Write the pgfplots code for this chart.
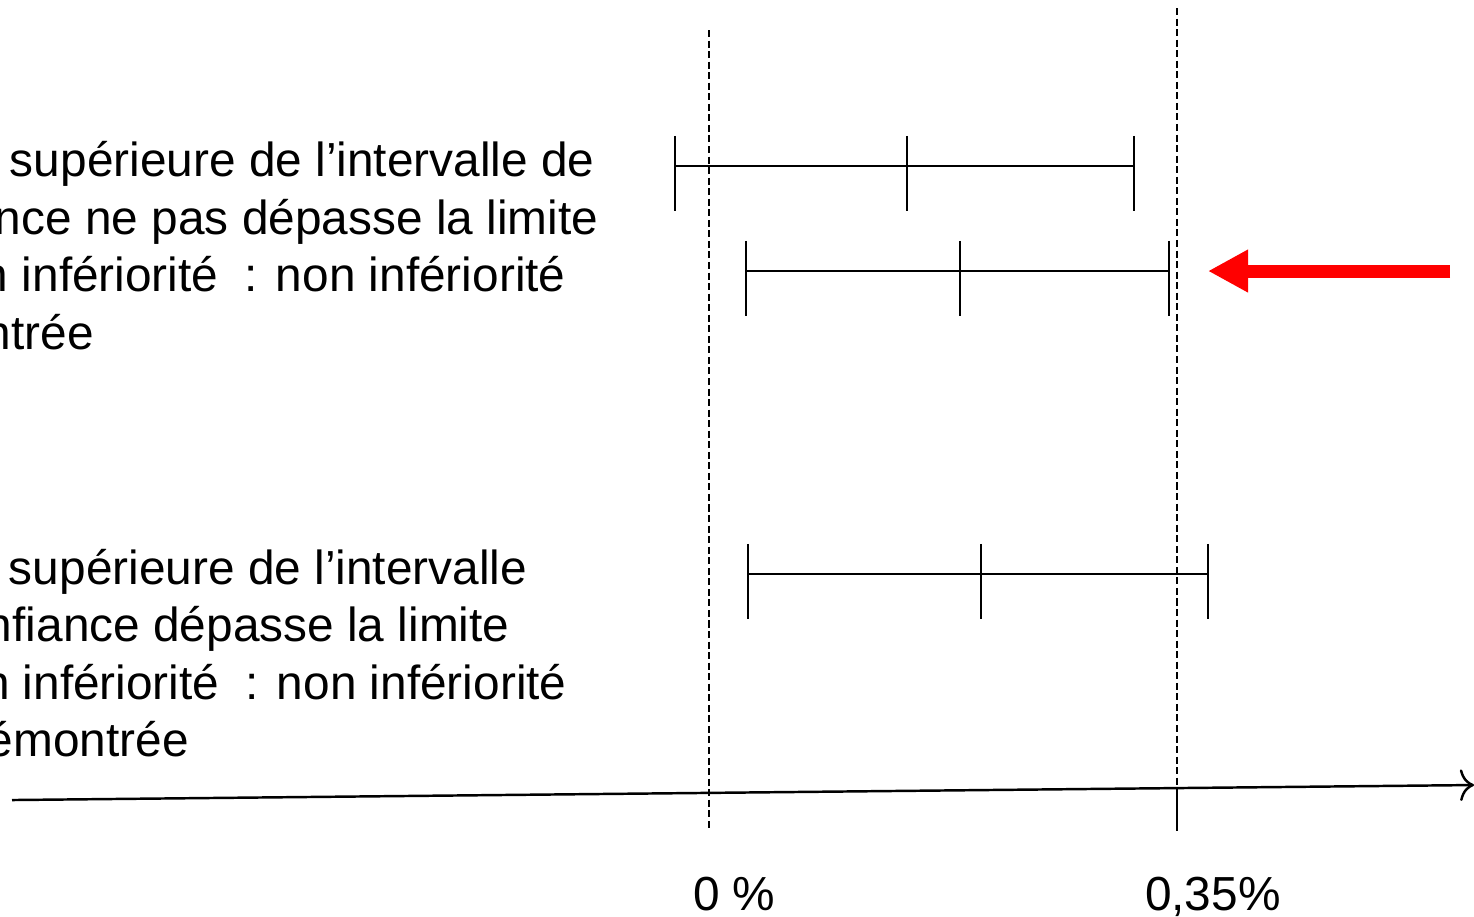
\documentclass[border=0pt]{standalone}
\usepackage{pgfplots}
\pgfplotsset{compat=1.18}
\usetikzlibrary{arrows.meta}
\usepackage{fontspec}
\setmainfont{Liberation Sans}
\tikzset{txt/.style={inner sep=0pt, outer sep=0pt, font=\fontsize{13.6}{16.4}\selectfont}}
\begin{document}
\begin{tikzpicture}
\begin{axis}[
  scale only axis, width=14.74cm, height=9.16cm,
  xmin=-0.53024, xmax=0.57212, ymin=0, ymax=916, y dir=reverse,
  hide axis, clip=false
]
% reference lines (0 % and non-inferiority margin 0.35 %)
\addplot[black, line width=0.45pt, dash pattern=on 2pt off 1pt] coordinates {(0,30) (0,830)};
\addplot[black, line width=0.45pt, dash pattern=on 2pt off 1pt] coordinates {(0.35,8) (0.35,787)};
\addplot[black, line width=0.5pt] coordinates {(0.35,787) (0.35,831)};
% horizontal axis
\addplot[black, line width=0.7pt, -{To[length=4pt,width=9pt]}] coordinates {(-0.52126,800) (0.57212,785)};
% confidence intervals: lower, point estimate, upper
\addplot[black, line width=0.6pt, mark=|, mark size=10.7pt, mark options={yshift=-2.1pt}] coordinates {(-0.0254,166) (0.1481,166) (0.3178,166)};
\addplot[black, line width=0.6pt, mark=|, mark size=10.7pt, mark options={yshift=-2.1pt}] coordinates {(0.0277,271) (0.1877,271) (0.3440,271)};
\addplot[black, line width=0.6pt, mark=|, mark size=10.7pt, mark options={yshift=-2.1pt}] coordinates {(0.0292,574) (0.2034,574) (0.3732,574)};
% red arrow
\addplot[red, line width=3.7pt, -{Triangle[length=11.4pt,width=11.4pt]}] coordinates {(0.55419,271) (0.37318,271)};
% texts, block 1
\node[txt, anchor=base east, xshift=-3.8pt] at (axis cs:-0.52276,176) {La borne};
\node[txt, anchor=base west] at (axis cs:-0.52276,176) {supérieure de l’intervalle de};
\node[txt, anchor=base east] at (axis cs:-0.53398,234) {confia};
\node[txt, anchor=base west] at (axis cs:-0.53398,234) {nce ne pas dépasse la limite};
\node[txt, anchor=base east] at (axis cs:-0.54370,291) {de no};
\node[txt, anchor=base west] at (axis cs:-0.54370,291) {n infériorité \ : non infériorité};
\node[txt, anchor=base east] at (axis cs:-0.54146,349) {démo};
\node[txt, anchor=base west] at (axis cs:-0.54146,349) {ntrée};
% texts, block 2
\node[txt, anchor=base east, xshift=-3.8pt] at (axis cs:-0.52351,584) {La borne};
\node[txt, anchor=base west] at (axis cs:-0.52351,584) {supérieure de l’intervalle};
\node[txt, anchor=base east] at (axis cs:-0.54071,641) {de co};
\node[txt, anchor=base west] at (axis cs:-0.54071,641) {nfiance dépasse la limite};
\node[txt, anchor=base east] at (axis cs:-0.54295,699) {de no};
\node[txt, anchor=base west] at (axis cs:-0.54295,699) {n infériorité \ : non infériorité};
\node[txt, anchor=base east] at (axis cs:-0.53996,756) {non d};
\node[txt, anchor=base west] at (axis cs:-0.53996,756) {émontrée};
% tick labels
\node[txt, anchor=base west] at (axis cs:-0.01197,910) {0 \%};
\node[txt, anchor=base west] at (axis cs:0.32607,910) {0,35\%};
\end{axis}
\pgfresetboundingbox
\path (current axis.south west) rectangle (current axis.north east);
\end{tikzpicture}
\end{document}
